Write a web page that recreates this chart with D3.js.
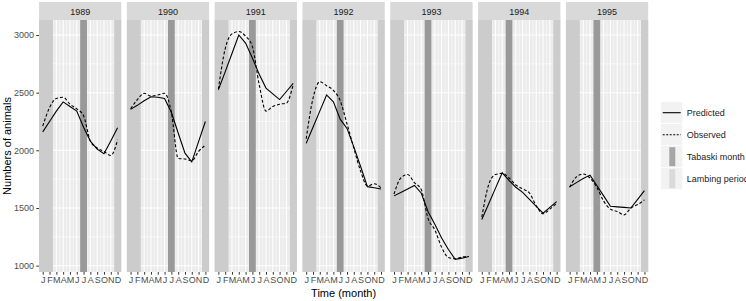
<html>
    <head>
        <title>facet-lines</title>
        <script src="https://d3js.org/d3.v7.min.js"></script>
        <style>
            body { margin: 0; background: #fff; }
            svg text { font-family: "Liberation Sans", Arial, sans-serif; }
        </style>
    </head>
    <body>
        <script>
            const years = ["1989", "1990", "1991", "1992", "1993", "1994", "1995"];
            const monthLabels = ["J", "F", "M", "A", "M", "J", "J", "A", "S", "O", "N", "D"];
            const months = d3.range(1, 13);
            const yTicks = [1000, 1500, 2000, 2500, 3000];

            // predicted, one array per year (Jan..Dec)
            const predicted = [
                [2160, 2250, 2340, 2420, 2380, 2340, 2200, 2080, 2010, 1970, 2080, 2195],
                [2355, 2390, 2430, 2465, 2460, 2450, 2330, 2150, 1975, 1900, 2075, 2250],
                [2525, 2680, 2840, 3000, 2930, 2800, 2660, 2540, 2490, 2440, 2510, 2580],
                [2060, 2200, 2340, 2480, 2420, 2270, 2190, 2030, 1860, 1685, 1675, 1665],
                [1605, 1635, 1665, 1695, 1630, 1470, 1360, 1240, 1140, 1055, 1065, 1080],
                [1400, 1535, 1670, 1805, 1740, 1680, 1635, 1575, 1515, 1455, 1505, 1555],
                [1685, 1720, 1755, 1785, 1695, 1605, 1515, 1510, 1505, 1500, 1575, 1650]
            ];
            const observed = [
                [2210, 2370, 2450, 2460, 2400, 2360, 2300, 2080, 2020, 1990, 1955, 2090],
                [2360, 2440, 2495, 2470, 2480, 2495, 2330, 1930, 1925, 1910, 1990, 2045],
                [2530, 2880, 3010, 3030, 2990, 2900, 2570, 2340, 2380, 2400, 2410, 2570],
                [2100, 2450, 2595, 2560, 2520, 2430, 2230, 2020, 1820, 1690, 1710, 1675],
                [1620, 1760, 1790, 1720, 1660, 1410, 1310, 1160, 1070, 1060, 1075, 1080],
                [1420, 1700, 1790, 1800, 1760, 1700, 1665, 1630, 1520, 1450, 1490, 1540],
                [1680, 1770, 1795, 1760, 1680, 1560, 1490, 1470, 1440, 1500, 1530, 1570]
            ];
            const tabaskiMonth = [7, 7, 6, 6, 6, 5, 5];
            const lambingPeriods = [[1, 2], [12, 12]];

            const legendItems = ["Predicted", "Observed", "Tabaski month", "Lambing period"];

            const w = 746;
            const h = 301;
            const plotTop = 20, plotBottom = 272;

            const svg = d3.select("body")
                .append("svg")
                .attr("width", w)
                .attr("height", h);

            const panelScale = d3.scaleBand()
                .domain(years)
                .range([39, 648.2])
                .paddingInner(0.0626);
            const pw = panelScale.bandwidth();

            const xScale = d3.scaleLinear()
                .domain([0.45, 12.55])
                .range([0, pw]);
            const yScale = d3.scaleLinear()
                .domain([945, 3130])
                .range([plotBottom, plotTop]);

            const minorY = d3.range(1250, 3130, 500);
            const minorX = d3.range(1.5, 12, 1);

            const predLine = d3.line()
                .x((d, i) => xScale(i + 1))
                .y(d => yScale(d));
            const obsLine = d3.line()
                .x((d, i) => xScale(i + 1))
                .y(d => yScale(d))
                .curve(d3.curveMonotoneX);

            years.forEach((yr, k) => {
                const g = svg.append("g")
                    .attr("transform", "translate(" + panelScale(yr) + ",0)");

                // strip
                g.append("rect")
                    .attr("x", 0).attr("y", 2)
                    .attr("width", pw).attr("height", plotTop - 2)
                    .attr("fill", "#D9D9D9");
                g.append("text")
                    .attr("x", pw / 2).attr("y", 14.5)
                    .attr("text-anchor", "middle")
                    .attr("font-size", 9)
                    .attr("fill", "#1A1A1A")
                    .text(yr);

                // panel background and grid
                g.append("rect")
                    .attr("x", 0).attr("y", plotTop)
                    .attr("width", pw).attr("height", plotBottom - plotTop)
                    .attr("fill", "#EBEBEB");
                g.selectAll(".ymin").data(minorY).enter().append("line")
                    .attr("x1", 0).attr("x2", pw)
                    .attr("y1", d => yScale(d)).attr("y2", d => yScale(d))
                    .attr("stroke", "#fff").attr("stroke-width", 0.5);
                g.selectAll(".xmin").data(minorX).enter().append("line")
                    .attr("y1", plotTop).attr("y2", plotBottom)
                    .attr("x1", d => xScale(d)).attr("x2", d => xScale(d))
                    .attr("stroke", "#fff").attr("stroke-width", 0.5);
                g.selectAll(".ymaj").data(yTicks).enter().append("line")
                    .attr("x1", 0).attr("x2", pw)
                    .attr("y1", d => yScale(d)).attr("y2", d => yScale(d))
                    .attr("stroke", "#fff").attr("stroke-width", 1.05);
                g.selectAll(".xmaj").data(months).enter().append("line")
                    .attr("y1", plotTop).attr("y2", plotBottom)
                    .attr("x1", d => xScale(d)).attr("x2", d => xScale(d))
                    .attr("stroke", "#fff").attr("stroke-width", 1.05);

                // lambing period bands
                const bandX0 = d => d[0] === 1 ? 0 : xScale(d[0] - 0.5);
                const bandX1 = d => d[1] === 12 ? pw : xScale(d[1] + 0.5);
                g.selectAll(".lamb").data(lambingPeriods).enter().append("rect")
                    .attr("x", bandX0)
                    .attr("width", d => bandX1(d) - bandX0(d))
                    .attr("y", plotTop).attr("height", plotBottom - plotTop)
                    .attr("fill", "#CCCCCC");

                // tabaski month band
                g.append("rect")
                    .attr("x", xScale(tabaskiMonth[k] - 0.5))
                    .attr("width", xScale(tabaskiMonth[k] + 0.5) - xScale(tabaskiMonth[k] - 0.5))
                    .attr("y", plotTop).attr("height", plotBottom - plotTop)
                    .attr("fill", "#999999");

                // lines
                g.append("path")
                    .datum(observed[k])
                    .attr("d", obsLine)
                    .attr("fill", "none")
                    .attr("stroke", "#000")
                    .attr("stroke-width", 1.1)
                    .attr("stroke-dasharray", "3,2");
                g.append("path")
                    .datum(predicted[k])
                    .attr("d", predLine)
                    .attr("fill", "none")
                    .attr("stroke", "#000")
                    .attr("stroke-width", 1.1);

                // x axis
                const xAxis = d3.axisBottom(xScale)
                    .tickValues(months)
                    .tickFormat(d => monthLabels[d - 1])
                    .tickSize(2.7)
                    .tickPadding(2);
                const xa = g.append("g")
                    .attr("transform", "translate(0," + plotBottom + ")")
                    .call(xAxis);
                xa.select(".domain").remove();
                xa.selectAll("line").attr("stroke", "#333333").attr("stroke-width", 1);
                xa.selectAll("text")
                    .attr("fill", "#4D4D4D")
                    .attr("font-size", 9)
                    .style("font-family", "'Liberation Sans', Arial, sans-serif");
            });

            // y axis
            const yAxis = d3.axisLeft(yScale)
                .tickValues(yTicks)
                .tickFormat(d3.format("d"))
                .tickSize(2.7)
                .tickPadding(2.2);
            const ya = svg.append("g")
                .attr("transform", "translate(39,0)")
                .call(yAxis);
            ya.select(".domain").remove();
            ya.selectAll("line").attr("stroke", "#333333").attr("stroke-width", 1);
            ya.selectAll("text")
                .attr("fill", "#4D4D4D")
                .attr("font-size", 9)
                .style("font-family", "'Liberation Sans', Arial, sans-serif");

            // axis titles
            svg.append("text")
                .attr("transform", "translate(11," + ((plotTop + plotBottom) / 2) + ") rotate(-90)")
                .attr("text-anchor", "middle")
                .attr("font-size", 11)
                .attr("fill", "#000")
                .text("Numbers of animals");
            svg.append("text")
                .attr("x", (39 + 648.2) / 2)
                .attr("y", 296.5)
                .attr("text-anchor", "middle")
                .attr("font-size", 11)
                .attr("fill", "#000")
                .text("Time (month)");

            // legend
            const keyX = 660.7, keyY = 101.7, keySize = 22;
            const legend = svg.append("g");
            legendItems.forEach((name, i) => {
                const y0 = keyY + i * keySize;
                legend.append("rect")
                    .attr("x", keyX).attr("y", y0)
                    .attr("width", keySize).attr("height", keySize)
                    .attr("fill", "#F2F2F2")
                    .attr("stroke", "#fff").attr("stroke-width", 0.5);
                if (i < 2) {
                    legend.append("line")
                        .attr("x1", keyX + 2).attr("x2", keyX + keySize - 2)
                        .attr("y1", y0 + keySize / 2).attr("y2", y0 + keySize / 2)
                        .attr("stroke", "#000").attr("stroke-width", 1.1)
                        .attr("stroke-dasharray", i === 1 ? "2,1.5" : null);
                } else {
                    legend.append("rect")
                        .attr("x", keyX + 8.6).attr("y", y0 + 1.5)
                        .attr("width", 6).attr("height", keySize - 3)
                        .attr("fill", i === 2 ? "#A6A6A6" : "#DADADA");
                }
                legend.append("text")
                    .attr("x", 686.7).attr("y", y0 + keySize / 2 + 3.2)
                    .attr("font-size", 9)
                    .attr("fill", "#1A1A1A")
                    .text(name);
            });
        </script>
    </body>
</html>
